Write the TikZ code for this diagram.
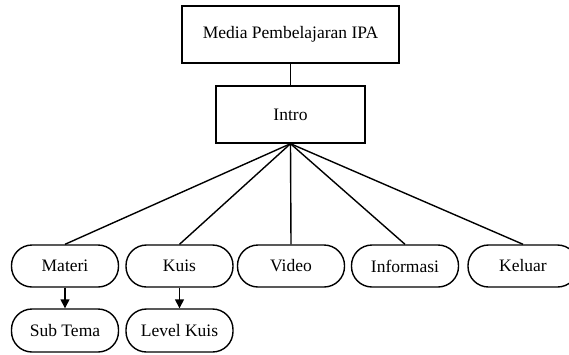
\documentclass[tikz,border=0pt]{standalone}
\usepackage{fontspec}
\setmainfont{Liberation Serif}
\usetikzlibrary{arrows.meta}
\begin{document}
\begin{tikzpicture}[x=1pt,y=-1pt,
  every node/.style={font=\fontsize{17.5}{20}\selectfont, inner sep=0pt},
  box/.style={draw, line width=1.4pt, rectangle, minimum height=57pt},
  pill/.style={draw, line width=1.4pt, rectangle, rounded corners=20.5pt, minimum width=107pt, minimum height=42pt},
  conn/.style={line width=1.4pt},
  arr/.style={line width=1.4pt, -{Triangle[length=9pt,width=9pt]}}]
\useasboundingbox (0,0) rectangle (569,354);
\node[box, minimum width=217pt] (top) at (290.5,34.5) {Media Pembelajaran IPA};
\node[box, minimum width=149pt] (intro) at (290.5,114.5) {Intro};
\node[pill] (materi) at (65,266) {Materi};
\node[pill] (kuis) at (179.5,266) {Kuis};
\node[pill] (video) at (291,266) {Video};
\node[pill] (info) at (405,266) {Informasi};
\node[pill, minimum width=110pt] (keluar) at (523,266) {Keluar};
\node[pill, minimum height=43pt] (sub) at (65,330.5) {Sub Tema};
\node[pill, minimum height=43pt] (level) at (179.5,330.5) {Level Kuis};
\draw[conn] (top) -- (intro);
\foreach \n in {materi,kuis,video,info,keluar}
  \draw[conn] (intro.south) -- (\n.north);
\draw[arr] (materi) -- (sub);
\draw[arr] (kuis) -- (level);
\end{tikzpicture}
\end{document}
